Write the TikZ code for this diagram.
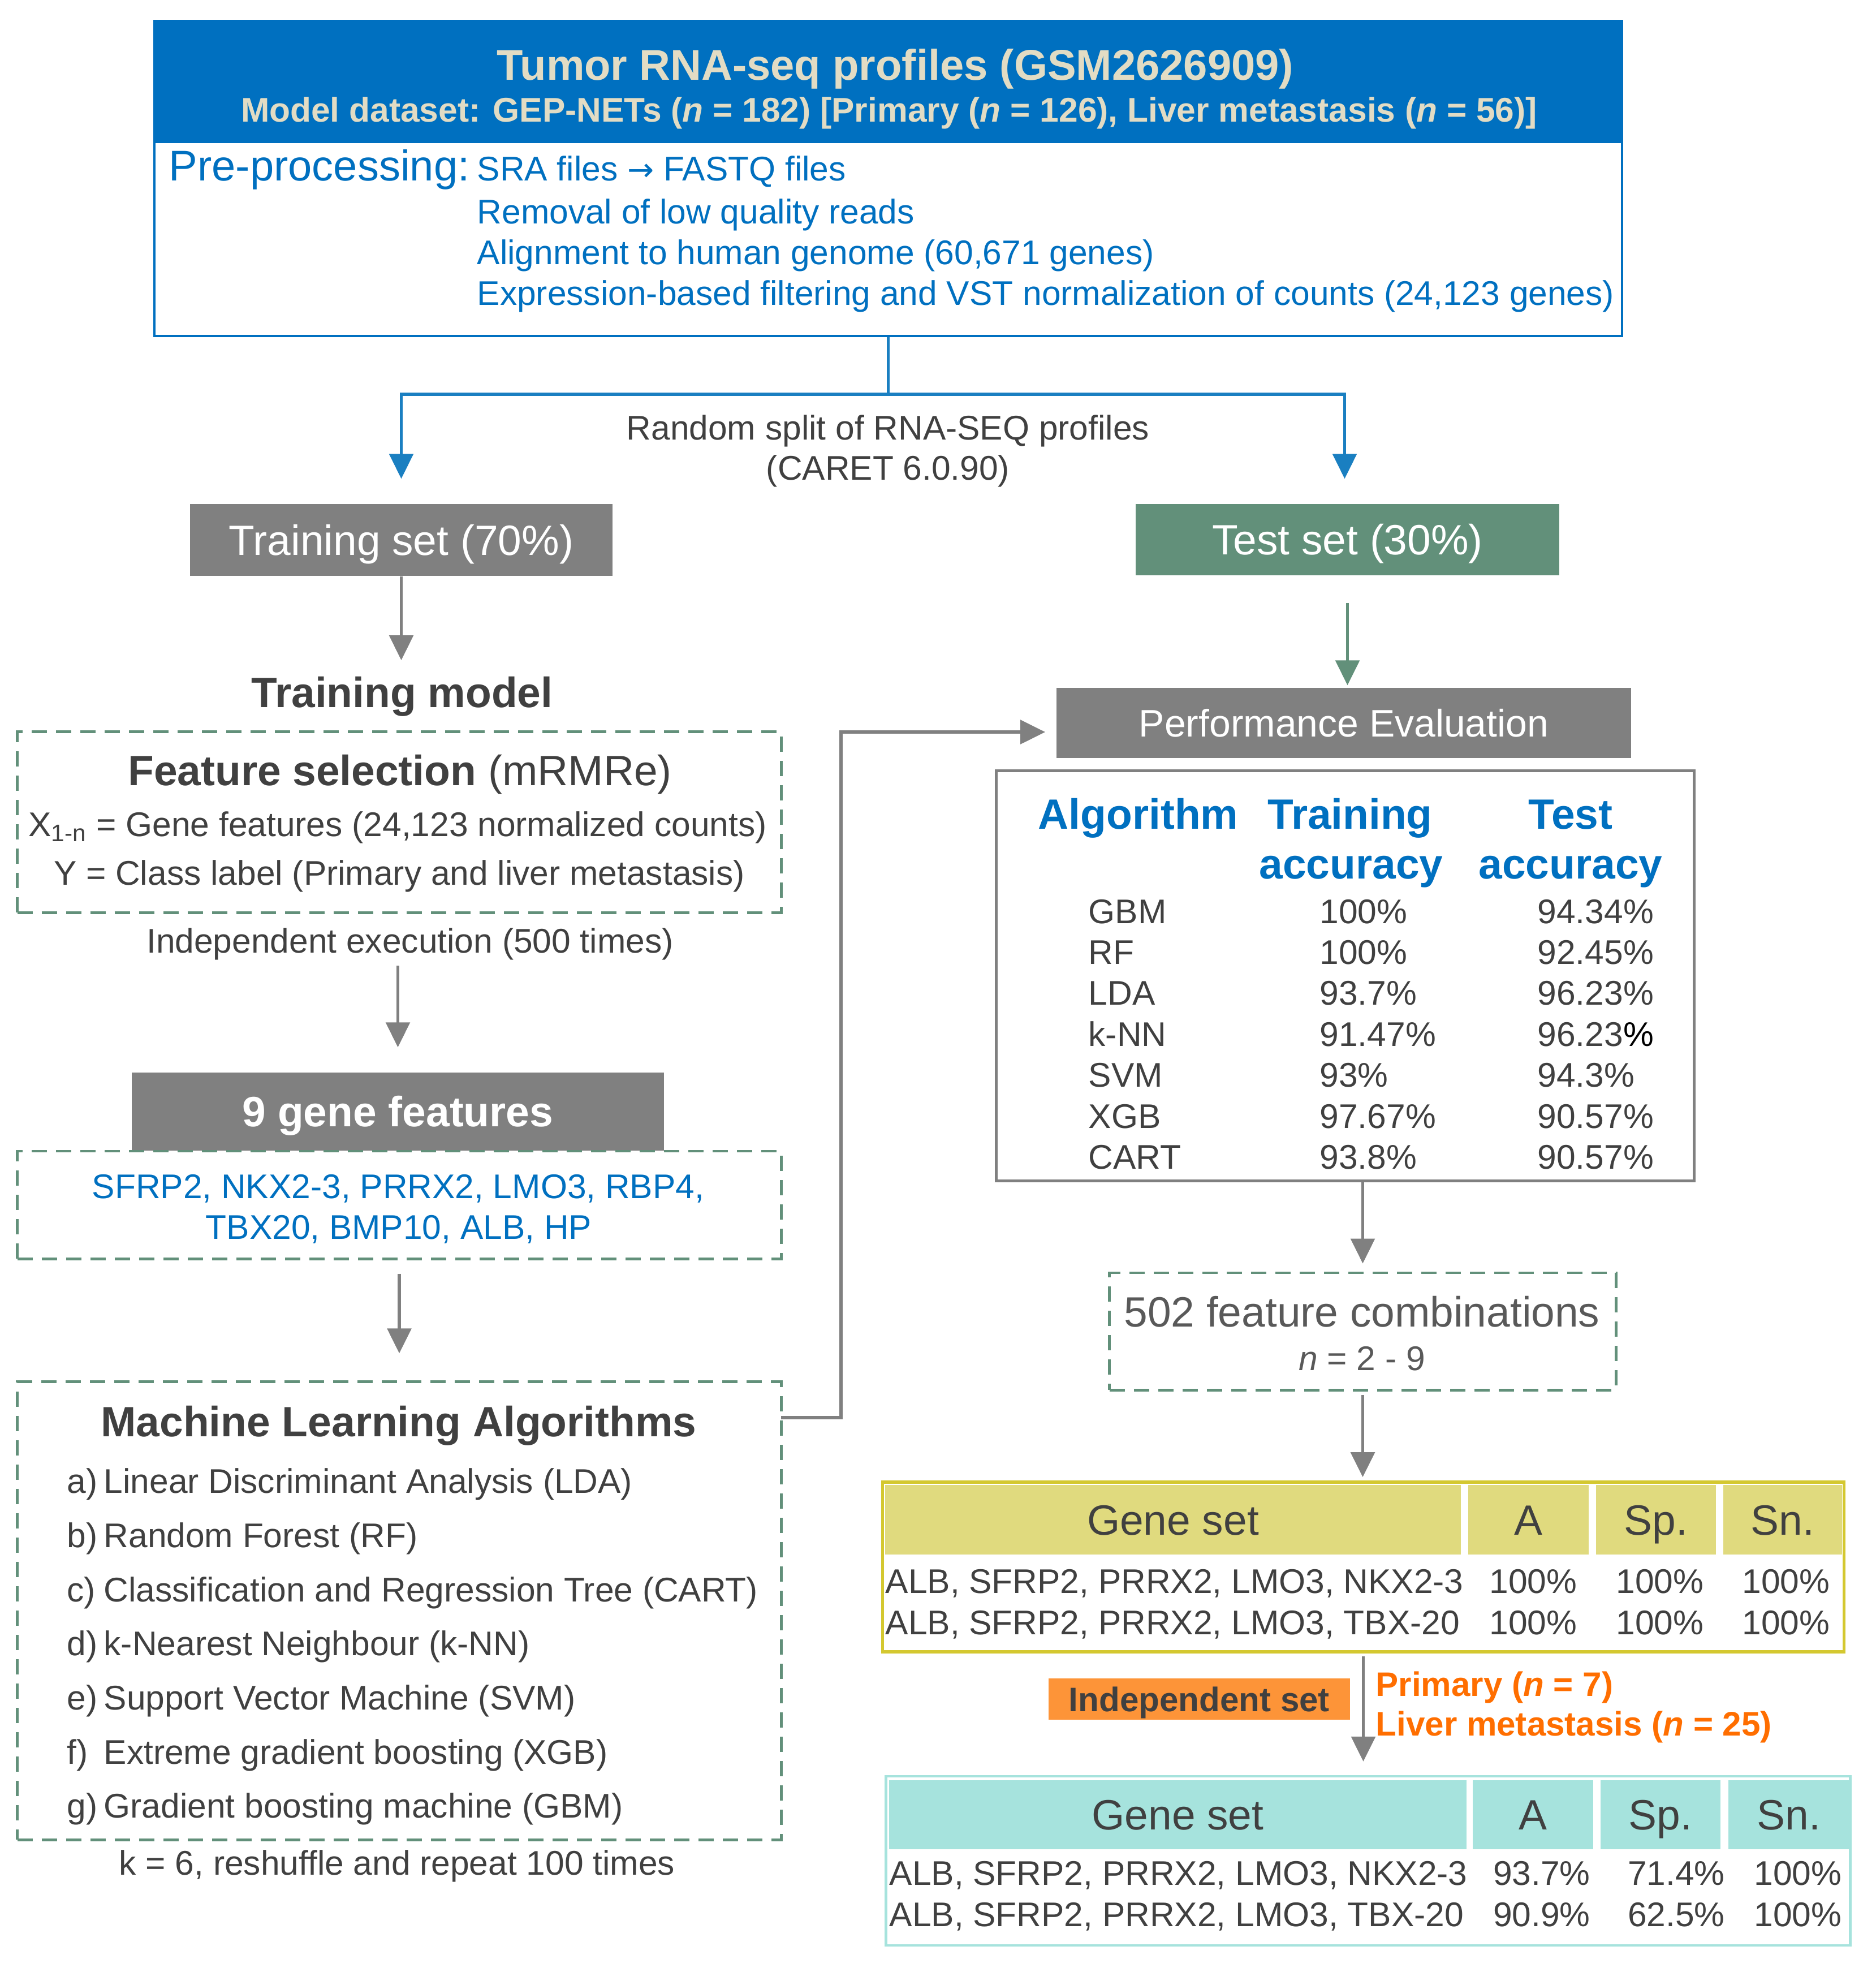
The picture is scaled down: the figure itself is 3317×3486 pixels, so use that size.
\documentclass[tikz,border=0pt]{standalone}
\usepackage{fontspec}
\setmainfont{Liberation Sans}
\newfontfamily\arrowfont{DejaVu Sans}
\usetikzlibrary{arrows.meta}
\definecolor{hblue}{RGB}{0,112,192}
\definecolor{ttxt}{RGB}{226,220,196}
\definecolor{sblue}{RGB}{26,127,193}
\definecolor{mgray}{RGB}{128,128,128}
\definecolor{dgreen}{RGB}{98,144,122}
\definecolor{dtxt}{RGB}{64,64,64}
\definecolor{ctxt}{RGB}{89,89,89}
\definecolor{yfill}{RGB}{224,218,126}
\definecolor{yline}{RGB}{212,200,48}
\definecolor{cfill}{RGB}{166,227,221}
\definecolor{ofill}{RGB}{253,148,56}
\definecolor{otxt}{RGB}{255,110,0}
\tikzset{
  fsm/.style={font=\fontsize{17.2}{20}\selectfont},
  fbg/.style={font=\fontsize{21.3}{25}\selectfont},
  fbgb/.style={font=\fontsize{21.3}{25}\selectfont\bfseries},
  lbl/.style={inner sep=0pt, anchor=base, text=dtxt},
  lblw/.style={inner sep=0pt, anchor=base west, text=dtxt},
  solidbox/.style={draw=none, inner sep=0pt, text=white},
  dashbox/.style={draw=dgreen, line width=1.4pt, dash pattern=on 0.27cm off 0.16cm, inner sep=0pt},
  garr/.style={draw=mgray, line width=1.5pt, -{Triangle[length=12.5pt,width=12pt]}},
  tarr/.style={draw=dgreen, line width=1.5pt, -{Triangle[length=12.5pt,width=12pt]}},
  barr/.style={draw=sblue, line width=1.5pt, -{Triangle[length=12.5pt,width=12pt]}},
  ycell/.style={fill=yfill, inner sep=0pt, text=dtxt, font=\fontsize{21.3}{25}\selectfont, text height=0.537cm, text depth=0pt, minimum height=1.23cm},
  ccell/.style={fill=cfill, inner sep=0pt, text=dtxt, font=\fontsize{21.3}{25}\selectfont, text height=0.537cm, text depth=0pt, minimum height=1.22cm},
}
\begin{document}
\begin{tikzpicture}[x=0.01cm, y=-0.01cm]
\useasboundingbox (0,0) rectangle (3317,3486);
\fill[white] (0,0) rectangle (3317,3486);

% ---------- top box ----------
\node[fill=hblue, minimum width=25.93cm, minimum height=2.16cm, inner sep=0pt] (tophead) at (1570.5,145) {};
\node[draw=hblue, line width=1.2pt, minimum width=25.93cm, minimum height=5.57cm, inner sep=0pt] (topbox) at (1570.5,315.5) {};
\node[inner sep=0pt, anchor=base, text=ttxt, font=\fontsize{21.6}{26}\selectfont\bfseries] (title) at (1583,141) {Tumor RNA-seq profiles (GSM2626909)};
\node[inner sep=0pt, anchor=base, text=ttxt, font=\fontsize{17.2}{20}\selectfont\bfseries] (subtitle) at (1572,215) {Model dataset: GEP-NETs (\textit{n} = 182) [Primary (\textit{n} = 126), Liver metastasis (\textit{n} = 56)]};
\node[inner sep=0pt, anchor=base west, text=hblue, font=\fontsize{21.6}{26}\selectfont] (pp) at (298,319) {Pre-processing:};
\node[inner sep=0pt, anchor=base west, text=hblue, fsm] (pp1) at (843,319) {SRA files {\arrowfont\fontsize{16}{20}\selectfont →} FASTQ files};
\node[inner sep=0pt, anchor=base west, text=hblue, fsm] (pp2) at (843,395) {Removal of low quality reads};
\node[inner sep=0pt, anchor=base west, text=hblue, fsm] (pp3) at (843,467) {Alignment to human genome (60,671 genes)};
\node[inner sep=0pt, anchor=base west, text=hblue, fsm] (pp4) at (843,539) {Expression-based filtering and VST normalization of counts (24,123 genes)};

% ---------- split ----------
\node[solidbox, fill=mgray, fbg, minimum width=7.47cm, minimum height=1.27cm, text height=0.537cm, text depth=0pt] (train) at (709.5,954.5) {Training set (70\%)};
\node[solidbox, fill=dgreen, fbg, minimum width=7.49cm, minimum height=1.26cm, text height=0.537cm, text depth=0pt] (test) at (2382.5,954) {Test set (30\%)};
\coordinate (split) at (1570.5,697);
\draw[sblue, line width=1.4pt] (topbox.south) -- (split);
\draw[barr, shorten >=0.44cm] (split) -| (train.north);
\draw[barr, shorten >=0.44cm] (split) -| ([xshift=-0.05cm]test.north);
\node[lbl, fsm] (rs1) at (1570,777) {Random split of RNA-SEQ profiles};
\node[lbl, fsm] (rs2) at (1570,848) {(CARET 6.0.90)};

% ---------- left column ----------
\node[lbl, fbgb] (tm) at (711,1250) {Training model};
\coordinate (tmtip) at (709.5,1167);
\draw[garr] (train.south) -- (tmtip);

\node[dashbox, minimum width=13.5cm, minimum height=3.19cm] (fsbox) at (706,1453.5) {};
\node[lbl, fbg] (fst) at (707,1388) {\textbf{Feature selection} (mRMRe)};
\node[lbl, fsm] (fsx) at (703,1478) {X\textsubscript{1-n} = Gene features (24,123 normalized counts)};
\node[lbl, fsm] (fsy) at (706,1564) {Y = Class label (Primary and liver metastasis)};
\node[lbl, fsm] (indep) at (725,1684) {Independent execution (500 times)};

\node[solidbox, fill=mgray, fbgb, minimum width=9.41cm, minimum height=1.38cm, text height=0.537cm, text depth=0pt] (g9) at (703.5,1965) {9 gene features};
\coordinate (a2s) at (709.5,1707);
\draw[garr, shorten >=0.44cm] (g9.north |- a2s) -- (g9.north);

\node[dashbox, minimum width=13.5cm, minimum height=1.9cm] (genes) at (706,2130) {};
\node[inner sep=0pt, anchor=base, text=hblue, fsm] (gl1) at (704,2118) {SFRP2, NKX2-3, PRRX2, LMO3, RBP4,};
\node[inner sep=0pt, anchor=base, text=hblue, fsm] (gl2) at (705,2190) {TBX20, BMP10, ALB, HP};

\node[dashbox, minimum width=13.5cm, minimum height=8.09cm] (ml) at (706,2847.5) {};
\draw[garr, shorten <=0.24cm, shorten >=0.48cm] (genes.south) -- (ml.north);
\node[lbl, fbgb] (mlt) at (705,2539) {Machine Learning Algorithms};
\node[lblw, fsm] (la) at (118,2639) {a)};
\node[lblw, fsm] (ta) at (183,2639) {Linear Discriminant Analysis (LDA)};
\node[lblw, fsm] (lb) at (118,2735) {b)};
\node[lblw, fsm] (tb) at (183,2735) {Random Forest (RF)};
\node[lblw, fsm] (lc) at (118,2831) {c)};
\node[lblw, fsm] (tc) at (183,2831) {Classification and Regression Tree (CART)};
\node[lblw, fsm] (ld) at (118,2926) {d)};
\node[lblw, fsm] (td) at (183,2926) {k-Nearest Neighbour (k-NN)};
\node[lblw, fsm] (le) at (118,3022) {e)};
\node[lblw, fsm] (te) at (183,3022) {Support Vector Machine (SVM)};
\node[lblw, fsm] (lf) at (118,3118) {f)};
\node[lblw, fsm] (tf) at (183,3118) {Extreme gradient boosting (XGB)};
\node[lblw, fsm] (lg) at (118,3213) {g)};
\node[lblw, fsm] (tg) at (183,3213) {Gradient boosting machine (GBM)};
\node[lbl, fsm] (kline) at (702,3314) {k = 6, reshuffle and repeat 100 times};

% ---------- right column ----------
\node[solidbox, fill=mgray, font=\fontsize{19.3}{23}\selectfont, minimum width=10.16cm, minimum height=1.24cm, text height=0.484cm, text depth=0pt] (perf) at (2376,1278) {Performance Evaluation};
\draw[tarr, shorten <=0.48cm, shorten >=0.04cm] (test.south) -- (test.south |- perf.north);
\coordinate (mlout) at (1381,2506);
\coordinate (bend) at (1487,1294);
\draw[garr, shorten >=0.19cm] (mlout) -| (bend) -- (perf.west |- bend);

\node[draw=mgray, line width=1.4pt, minimum width=12.33cm, minimum height=7.24cm, inner sep=0pt] (tab) at (2378.5,1725) {};
\node[inner sep=0pt, anchor=base west, text=hblue, fbgb] (hAlg) at (1835,1465) {Algorithm};
\node[inner sep=0pt, anchor=base, text=hblue, fbgb] (hTr) at (2387,1465) {Training};
\node[inner sep=0pt, anchor=base, text=hblue, fbgb] (hTe) at (2777,1465) {Test};
\node[inner sep=0pt, anchor=base, text=hblue, fbgb] (hTr2) at (2389,1553) {accuracy};
\node[inner sep=0pt, anchor=base, text=hblue, fbgb] (hTe2) at (2777,1553) {accuracy};

\node[lblw, fsm] (n1) at (1924,1632) {GBM};
\node[lblw, fsm] (v1) at (2333,1632) {100\%};
\node[lblw, fsm] (w1) at (2718,1632) {94.34\%};
\node[lblw, fsm] (n2) at (1924,1704) {RF};
\node[lblw, fsm] (v2) at (2333,1704) {100\%};
\node[lblw, fsm] (w2) at (2718,1704) {92.45\%};
\node[lblw, fsm] (n3) at (1924,1776) {LDA};
\node[lblw, fsm] (v3) at (2333,1776) {93.7\%};
\node[lblw, fsm] (w3) at (2718,1776) {96.23\%};
\node[lblw, fsm] (n4) at (1924,1849) {k-NN};
\node[lblw, fsm] (v4) at (2333,1849) {91.47\%};
\node[lblw, fsm] (w4) at (2718,1849) {96.23{\color{black}\%}};
\node[lblw, fsm] (n5) at (1924,1921) {SVM};
\node[lblw, fsm] (v5) at (2333,1921) {93\%};
\node[lblw, fsm] (w5) at (2718,1921) {94.3\%};
\node[lblw, fsm] (n6) at (1924,1994) {XGB};
\node[lblw, fsm] (v6) at (2333,1994) {97.67\%};
\node[lblw, fsm] (w6) at (2718,1994) {90.57\%};
\node[lblw, fsm] (n7) at (1924,2066) {CART};
\node[lblw, fsm] (v7) at (2333,2066) {93.8\%};
\node[lblw, fsm] (w7) at (2718,2066) {90.57\%};

\node[dashbox, minimum width=8.95cm, minimum height=2.07cm] (c502) at (2409.5,2353.5) {};
\draw[garr, shorten >=0.14cm] (tab.south -| c502.north) -- (c502.north);
\node[inner sep=0pt, anchor=base, text=ctxt, fbg] (c502t) at (2408,2345) {502 feature combinations};
\node[inner sep=0pt, anchor=base, text=ctxt, fsm] (c502n) at (2408,2422) {\textit{n} = 2 - 9};

% yellow table
\node[draw=yline, line width=1.6pt, minimum width=16.99cm, minimum height=3.0cm, inner sep=0pt] (ytab) at (2410.5,2770) {};
\draw[garr, shorten <=0.06cm, shorten >=0.06cm] (c502.south) -- (c502.south |- ytab.north);
\node[ycell, minimum width=10.18cm] (yh1) at (2074,2686.5) {Gene set};
\node[ycell, minimum width=2.13cm] (yh2) at (2702.5,2686.5) {A};
\node[ycell, minimum width=2.12cm] (yh3) at (2928,2686.5) {Sp.};
\node[ycell, minimum width=2.10cm] (yh4) at (3152,2686.5) {Sn.};
\node[lblw, fsm] (yr1) at (1565,2816) {ALB, SFRP2, PRRX2, LMO3, NKX2-3};
\node[lbl, fsm] (yr1a) at (2711,2816) {100\%};
\node[lbl, fsm] (yr1b) at (2935,2816) {100\%};
\node[lbl, fsm] (yr1c) at (3158,2816) {100\%};
\node[lblw, fsm] (yr2) at (1565,2889) {ALB, SFRP2, PRRX2, LMO3, TBX-20};
\node[lbl, fsm] (yr2a) at (2711,2889) {100\%};
\node[lbl, fsm] (yr2b) at (2935,2889) {100\%};
\node[lbl, fsm] (yr2c) at (3158,2889) {100\%};

% independent set
\node[fill=ofill, inner sep=0pt, minimum width=5.33cm, minimum height=0.73cm, font=\fontsize{17.1}{20}\selectfont\bfseries, text=dtxt, text height=0.43cm, text depth=0pt] (indset) at (2120.5,3003.5) {Independent set};
\node[inner sep=0pt, anchor=base west, text=otxt, font=\fontsize{17.1}{20}\selectfont\bfseries] (prim) at (2432,2998) {Primary (\textit{n} = 7)};
\node[inner sep=0pt, anchor=base west, text=otxt, font=\fontsize{17.1}{20}\selectfont\bfseries] (liv) at (2432,3068) {Liver metastasis (\textit{n} = 25)};

% cyan table
\node[draw=cfill, line width=1.2pt, minimum width=17.04cm, minimum height=2.99cm, inner sep=0pt] (ctab) at (2419,3289.5) {};
\draw[garr, shorten <=0.05cm, shorten >=0.24cm] (ytab.south) -- (ytab.south |- ctab.north);
\node[ccell, minimum width=10.21cm] (ch1) at (2082.5,3208) {Gene set};
\node[ccell, minimum width=2.13cm] (ch2) at (2710.5,3208) {A};
\node[ccell, minimum width=2.12cm] (ch3) at (2936,3208) {Sp.};
\node[ccell, minimum width=2.14cm] (ch4) at (3163,3208) {Sn.};
\node[lblw, fsm] (cr1) at (1572,3332) {ALB, SFRP2, PRRX2, LMO3, NKX2-3};
\node[lbl, fsm] (cr1a) at (2726,3332) {93.7\%};
\node[lbl, fsm] (cr1b) at (2964,3332) {71.4\%};
\node[lbl, fsm] (cr1c) at (3179,3332) {100\%};
\node[lblw, fsm] (cr2) at (1572,3405) {ALB, SFRP2, PRRX2, LMO3, TBX-20};
\node[lbl, fsm] (cr2a) at (2726,3405) {90.9\%};
\node[lbl, fsm] (cr2b) at (2964,3405) {62.5\%};
\node[lbl, fsm] (cr2c) at (3179,3405) {100\%};
\end{tikzpicture}
\end{document}
